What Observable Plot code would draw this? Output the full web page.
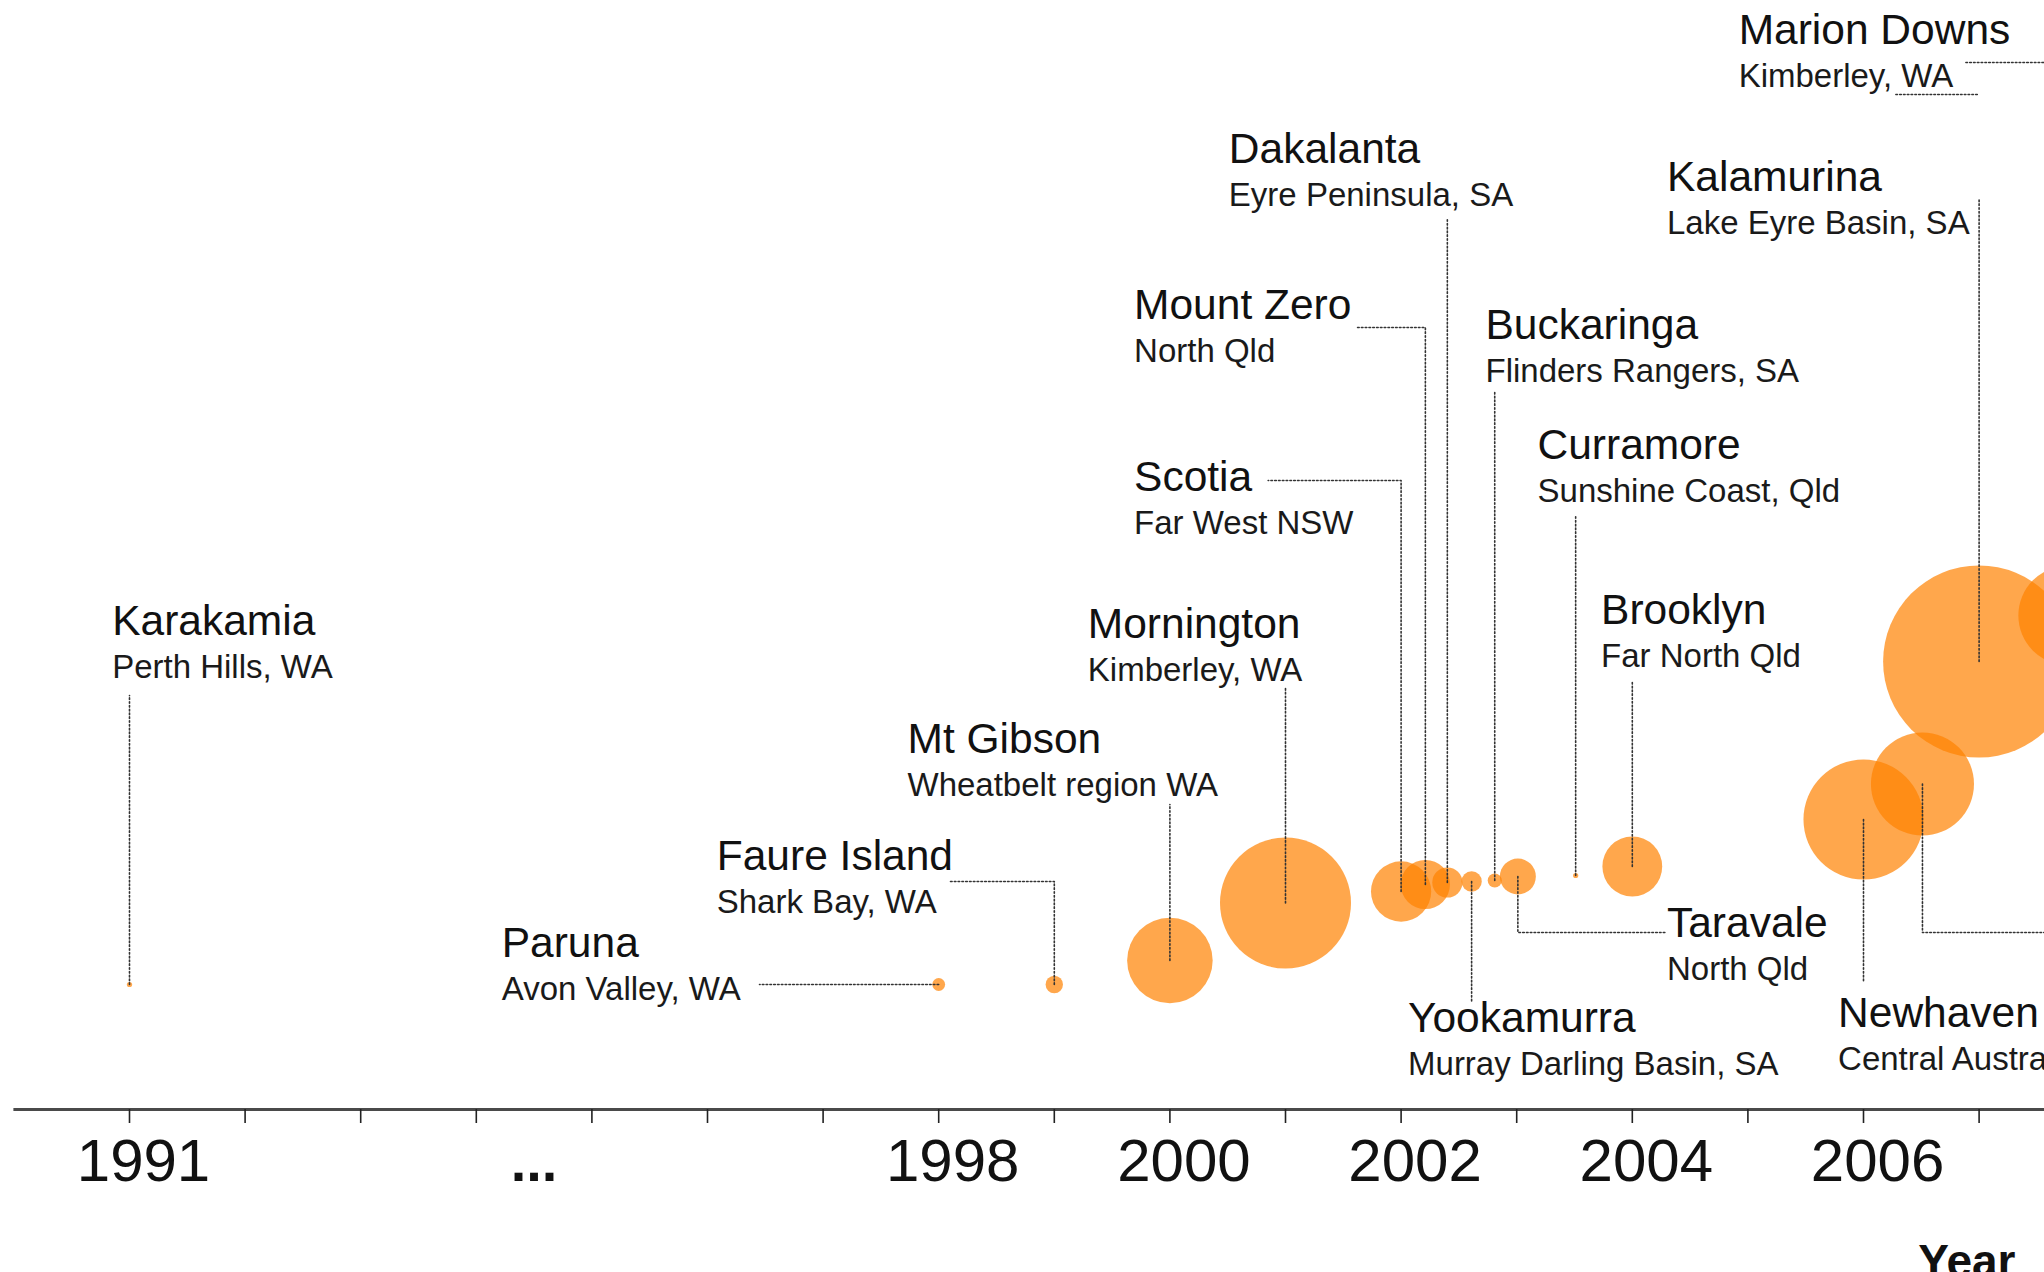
<!DOCTYPE html>
<html>
<head>
<meta charset="utf-8">
<script src="https://cdn.jsdelivr.net/npm/d3@7"></script>
<script src="https://cdn.jsdelivr.net/npm/@observablehq/plot@0.6"></script>
<style>
  html, body { margin: 0; padding: 0; background: #fff; overflow: hidden; }
  #chart svg { display: block; }
</style>
</head>
<body>
<div id="chart"></div>
<script>
// ---- Data ----
const sites   = ["Karakamia", "Paruna", "Faure Island", "Mt Gibson", "Mornington", "Scotia", "Mount Zero", "Dakalanta", "Yookamurra", "Buckaringa", "Taravale", "Curramore", "Brooklyn", "Newhaven", "", "Kalamurina", "Marion Downs"];
const regions = ["Perth Hills, WA", "Avon Valley, WA", "Shark Bay, WA", "Wheatbelt region WA", "Kimberley, WA", "Far West NSW", "North Qld", "Eyre Peninsula, SA", "Murray Darling Basin, SA", "Flinders Rangers, SA", "North Qld", "Sunshine Coast, Qld", "Far North Qld", "Central Australia, NT", "", "Lake Eyre Basin, SA", "Kimberley, WA"];
const years   = [1991, 1998, 1999, 2000, 2001, 2002, 2002.21, 2002.40, 2002.61, 2002.81, 2003.01, 2003.51, 2004.0, 2006.0, 2006.51, 2007.0, 2007.77];
const values  = [12.5, 12.5, 12.5, 14.9, 20.65, 21.8, 22.5, 22.7, 22.8, 22.9, 23.3, 23.4, 24.3, 29.0, 32.55, 44.8, 49.4];
const areas   = [5, 30, 55, 1330, 3120, 660, 440, 165, 75, 36, 235, 5, 650, 2620, 1930, 6700, 1800];

// axis ticks and tick labels
const tickYears = d3.range(1991, 2008);
const tickLabelYears = [1991, 1998, 2000, 2002, 2004, 2006];
const tickLabels = ["1991", "1998", "2000", "2002", "2004", "2006"];
const gapYear = [1994.5];
const gapLabel = ["..."];
const axisTitle = ["Year"];

// ---- Annotation layout (label anchors and leader bends, in data units) ----
const labelYears  = [1990.85, 1994.22, 1996.08, 1997.73, 1999.29, 1999.69, 1999.69, 2000.51, 2002.06, 2002.73, 2004.30, 2003.18, 2003.73, 2005.78, null, 2004.30, 2004.92];
const labelValues = [47.5, 15.3, 24.0, 35.7, 47.2, 61.9, 79.1, 94.7, 7.8, 77.1, 17.3, 65.1, 48.6, 8.3, null, 91.9, 106.6];
const leaderBends = [
  [[1991, 41.4]],
  [[1996.45, 12.5]],
  [[1999, 22.8], [1998.09, 22.8]],
  [[2000, 30.5]],
  [[2001, 42.2]],
  [[2002, 62.9], [2000.85, 62.9]],
  [[2002.21, 78.2], [2001.61, 78.2]],
  [[2002.40, 89.1]],
  [[2002.61, 10.8]],
  [[2002.81, 71.8]],
  [[2003.01, 17.7], [2004.29, 17.7]],
  [[2003.51, 59.4]],
  [[2004.0, 42.9]],
  [[2006.0, 12.7]],
  [[2006.51, 17.7], [2008.3, 17.7]],
  [[2007.0, 91.1]],
  [[2007.77, 104.7], [2006.88, 104.7]]
];
const extraLeader = [[2006.28, 101.5], [2007.0, 101.5]];

// ---- Build tables ----
const rows = sites.map((name, i) => ({name, region: regions[i], year: years[i], value: values[i], area: areas[i]}));
const labels = rows
  .map((d, i) => ({...d, lx: labelYears[i], ly: labelValues[i]}))
  .filter(d => d.name && d.lx != null);
const leaders = rows.flatMap((d, i) =>
  [[d.year, d.value], ...leaderBends[i]].map(([x, y]) => ({id: i, x, y}))
).concat(extraLeader.map(([x, y]) => ({id: "extra", x, y})));
const tickLabelRows = tickLabelYears.map((y, i) => ({year: y, label: tickLabels[i]}));

const font = "'Liberation Sans', Arial, Helvetica, sans-serif";
const dash = {stroke: "#333", strokeWidth: 1.6, strokeDasharray: "1.6,2.2"};

const chart = Plot.plot({
  width: 2044,
  height: 1272,
  marginTop: 0,
  marginRight: 0,
  marginLeft: 0,
  marginBottom: 163,
  x: {domain: [1989.8841, 2007.5657], axis: null},
  y: {domain: [0, 110.9], axis: null},
  r: {type: "sqrt", domain: [0, 6700], range: [0, 96]},
  style: {fontFamily: font, background: "#fff", overflow: "hidden", color: "#111"},
  marks: [
    Plot.dot(rows, {x: "year", y: "value", r: "area", fill: "#ff8200", fillOpacity: 0.7, stroke: "none"}),
    Plot.line(leaders, {x: "x", y: "y", z: "id", ...dash}),
    Plot.ruleY([0], {x1: 1990.0, x2: 2008, stroke: "#4a4a4a", strokeWidth: 3}),
    Plot.axisX({ticks: tickYears, tickSize: 14, tickFormat: () => "", stroke: "#222", strokeWidth: 1.6, label: null}),
    Plot.text(tickLabelRows, {x: "year", text: "label", frameAnchor: "bottom", lineAnchor: "bottom", dy: 71, dx: 14, fontSize: 60, fill: "#111"}),
    Plot.text(gapLabel, {x: () => gapYear[0], text: d => d, frameAnchor: "bottom", lineAnchor: "bottom", dy: 71, fontSize: 56, fontWeight: "bold", fill: "#111"}),
    Plot.text(axisTitle, {frameAnchor: "bottom-right", textAnchor: "end", lineAnchor: "bottom", dx: -29, dy: 167, fontSize: 46, fontWeight: "bold", fill: "#111"}),
    Plot.text(labels, {x: "lx", y: "ly", text: "name", textAnchor: "start", lineAnchor: "bottom", fontSize: 42.5, fill: "#111"}),
    Plot.text(labels, {x: "lx", y: "ly", text: "region", textAnchor: "start", lineAnchor: "bottom", dy: 43, fontSize: 33, fill: "#1a1a1a"})
  ]
});
document.getElementById("chart").append(chart);
</script>
</body>
</html>
